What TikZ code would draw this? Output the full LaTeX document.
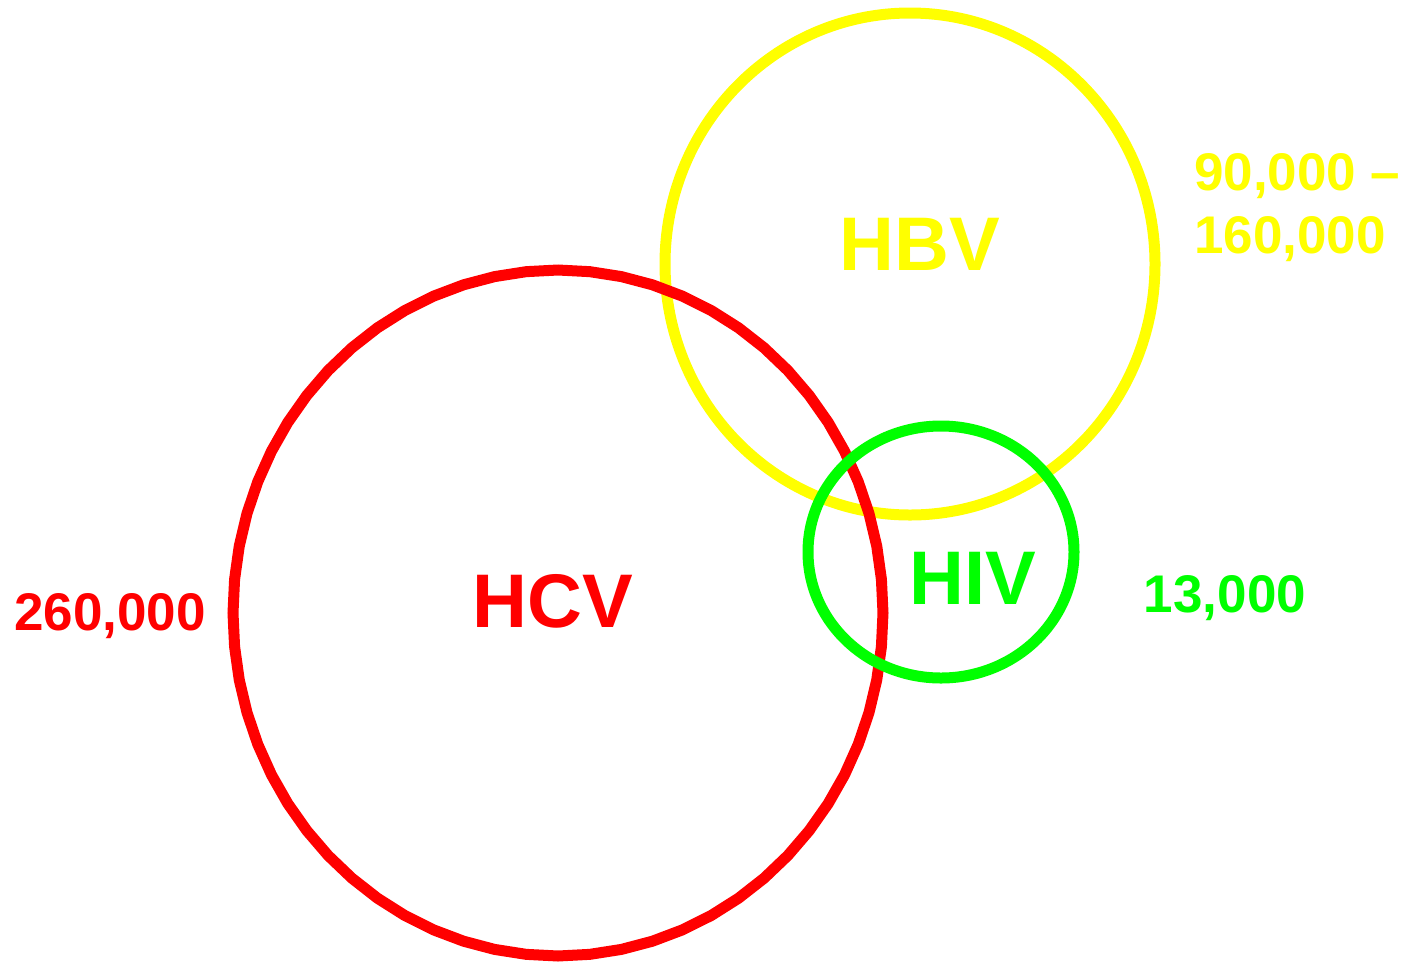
\documentclass[tikz,border=0pt]{standalone}
\usepackage{fontspec}
\setmainfont{Liberation Sans}
\usetikzlibrary{positioning}
\definecolor{cred}{HTML}{FF0000}
\definecolor{cyellow}{HTML}{FFFF00}
\definecolor{cgreen}{HTML}{00FF00}
\tikzset{
  ring/.style={draw=#1, line width=11pt},
  virus/.style={text=#1, font=\bfseries\fontsize{76}{80}\selectfont, inner sep=0pt, anchor=base},
  count/.style={text=#1, font=\bfseries\fontsize{53}{60}\selectfont, inner sep=0pt, anchor=base},
}
\begin{document}
\begin{tikzpicture}[x=1pt, y=-1pt]
  \useasboundingbox (0,0) rectangle (1408,962);
  % rings
  \draw[ring=cyellow] (910,264) ellipse [x radius=245, y radius=251];
  \draw[ring=cred] plot[samples=65, domain=0:360] ({558+325*cos(\x)}, {613+343*sin(\x)}) -- cycle;
  \draw[ring=cgreen] (941,552) ellipse [x radius=133, y radius=126];
  % names
  \node[virus=cred] (hcv) at (553,627) {HCV};
  \node[virus=cyellow] (hbv) at (920,270) {HBV};
  \node[virus=cgreen] (hiv) at (973,604) {HIV};
  % counts
  \node[count=cred] (nhcv) at (110,630) {260,000};
  \node[count=cgreen] (nhiv) at (1225,612) {13,000};
  \node[count=cyellow, anchor=base west] (nhbv) at (1194,190) {90,000 –};
  \node[count=cyellow, anchor=base west] (nhbvb) at (1194,253) {160,000};
\end{tikzpicture}
\end{document}
